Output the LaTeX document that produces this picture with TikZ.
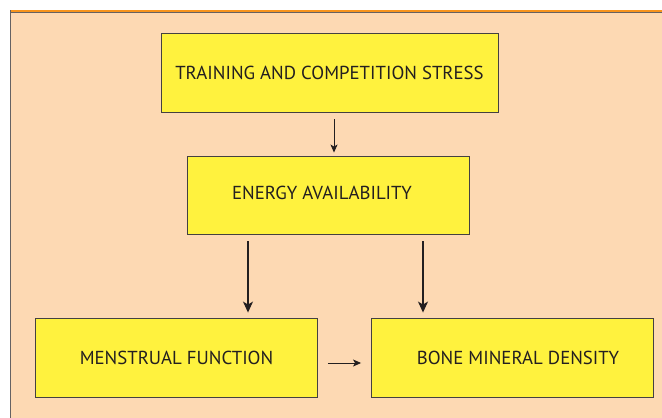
\documentclass[tikz,border=0pt]{standalone}
\usepackage{fontspec}
\setmainfont{PT Sans}
\usetikzlibrary{calc,arrows.meta}
\definecolor{peach}{HTML}{FDD9B3}
\definecolor{boxyellow}{HTML}{FFF23E}
\definecolor{rule}{HTML}{F7941D}
\definecolor{ink}{HTML}{231F20}
\tikzset{
  factor/.style={draw=ink!85,line width=0.9pt,fill=boxyellow,text=ink,inner sep=0pt,font=\fontsize{18.8}{21}\selectfont},
  bigarr/.style={-{Stealth[length=11pt,width=10pt,inset=3pt]},draw=ink,line width=1.2pt},
  smallarr/.style={-{Stealth[length=8pt,width=7pt,inset=2pt]},draw=ink,line width=0.8pt}
}
\begin{document}
\begin{tikzpicture}[x=1pt,y=-1pt]
\useasboundingbox (0,0) rectangle (662,418);
% frame
\fill[peach] (11,12) rectangle (662,418);
\draw[rule,line width=2.2pt] (10,11) -- (662,11);
\draw[ink!70,line width=0.8pt] (11,12.8) -- (662,12.8);
\draw[ink!70,line width=1.3pt] (10.5,10) -- (10.5,418);
% boxes
\node[factor,minimum width=337pt,minimum height=79pt] (stress) at (329.5,72.5) {TRAINING AND COMPETITION STRESS};
\node[factor,minimum width=282pt,minimum height=78pt] (energy) at (328,195) {\raisebox{4pt}{ENERGY AVAILABILITY\hspace{12pt}}};
\node[factor,minimum width=282pt,minimum height=79pt] (mens) at (176.5,357.5) {MENSTRUAL FUNCTION};
\node[factor,minimum width=282pt,minimum height=79pt] (bmd) at (512.5,357.5) {\hspace{11pt}BONE MINERAL DENSITY};
% arrows
\coordinate (top) at (334,0);
\coordinate (left) at (248,0);
\coordinate (right) at (423,0);
\draw[smallarr,shorten <=7pt,shorten >=3pt] (stress.south -| top) -- (energy.north -| top);
\draw[bigarr,shorten <=7pt,shorten >=5pt] (energy.south -| left) -- (mens.north -| left);
\draw[bigarr,shorten <=7pt,shorten >=5pt] (energy.south -| right) -- (bmd.north -| right);
\draw[smallarr,shorten <=10pt,shorten >=10pt] (mens.east |- 0,363) -- (bmd.west |- 0,363);
\end{tikzpicture}
\end{document}
